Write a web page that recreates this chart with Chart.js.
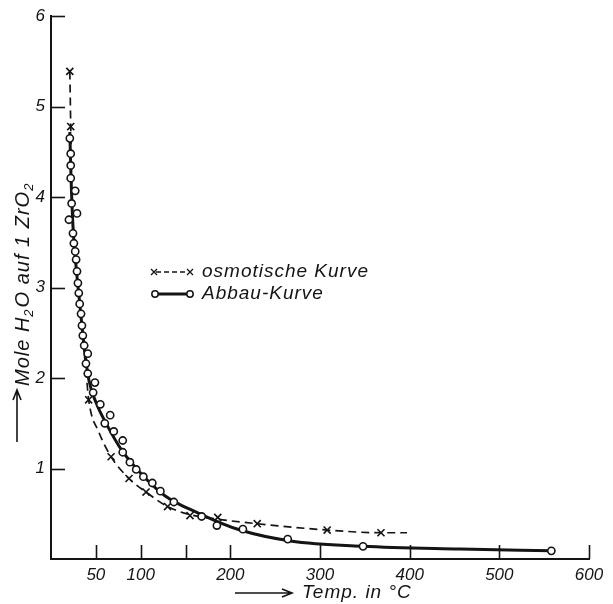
<!DOCTYPE html>
<html>
<head>
<meta charset="utf-8">
<script src="https://cdn.jsdelivr.net/npm/chart.js@4.4.1/dist/chart.umd.min.js"></script>
<style>
  html, body { margin: 0; padding: 0; background: #fff; }
  #wrap { width: 613px; height: 604px; }
</style>
</head>
<body>
<div id="wrap"><canvas id="myChart" width="613" height="604"></canvas></div>
<script>
// osmotic measurements (x marks)
var osmoTemp = [21, 22, 42, 67, 87, 106, 130, 155, 186, 230, 308, 368];
var osmoMol = [5.39, 4.78, 1.76, 1.13, 0.89, 0.74, 0.58, 0.48, 0.46, 0.39, 0.32, 0.29];

// dashed osmotic curve
var osmoCurveTemp = [21, 22, 23.4, 27.9, 33.5, 39, 42, 53.5, 67, 87, 106, 130, 155, 186, 230, 308, 368, 397];
var osmoCurveMol = [5.39, 4.78, 3.95, 3.29, 2.63, 2.08, 1.76, 1.40, 1.13, 0.89, 0.74, 0.58, 0.49, 0.44, 0.39, 0.32, 0.29, 0.29];

// decomposition measurements (circles)
var abbauTemp = [21, 22, 22, 22, 27, 23, 29, 20, 24.5, 25.5, 27, 28, 29, 30, 31, 32, 33.5, 34.5, 35.5, 37, 41, 39,
  41, 49, 47, 55, 66, 60, 70, 80, 80, 88, 95, 103, 113, 122, 137, 168, 185, 214, 264, 348, 558];
var abbauMol = [4.65, 4.48, 4.35, 4.21, 4.07, 3.93, 3.82, 3.75, 3.60, 3.49, 3.40, 3.31, 3.18, 3.05, 2.94, 2.82, 2.71,
  2.58, 2.47, 2.36, 2.27, 2.16, 2.05, 1.95, 1.84, 1.71, 1.59, 1.50, 1.41, 1.31, 1.18, 1.07, 0.99, 0.91, 0.84, 0.75,
  0.63, 0.47, 0.37, 0.33, 0.22, 0.14, 0.09];

// solid decomposition curve
var abbauCurveTemp = [21, 22.3, 24.5, 27.9, 32.3, 36.8, 42.4, 50.2, 62.5, 79, 99, 127, 166, 211, 267, 348, 456, 558];
var abbauCurveMol = [4.72, 4.23, 3.68, 3.24, 2.80, 2.36, 1.97, 1.73, 1.48, 1.20, 0.96, 0.70, 0.50, 0.32, 0.20, 0.14, 0.11, 0.09];

var xTicks = [50, 100, 150, 200, 300, 400, 500, 600];
var xTickLabels = ["50", "100", "", "200", "300", "400", "500", "600"];
var yTicks = [1, 2, 3, 4, 5, 6];

var ink = "#141414";
var textFont = "italic 19px 'Liberation Sans', 'DejaVu Sans', sans-serif";

function pts(xs, ys) {
  return xs.map(function (x, i) { return { x: x, y: ys[i] }; });
}

// inward tick marks, axis titles and the legend
var decorations = {
  id: "decorations",
  afterDraw: function (chart) {
    var c = chart.ctx, xs = chart.scales.x, ys = chart.scales.y, a = chart.chartArea;
    c.save();
    c.strokeStyle = ink;
    c.fillStyle = ink;
    c.lineWidth = 1.6;
    xTicks.forEach(function (t) {
      var px = Math.round(xs.getPixelForValue(t)) + 0.5;
      c.beginPath(); c.moveTo(px, a.bottom); c.lineTo(px, a.bottom - 14); c.stroke();
    });
    yTicks.forEach(function (t) {
      var py = Math.round(ys.getPixelForValue(t)) + 0.5;
      c.beginPath(); c.moveTo(a.left, py); c.lineTo(a.left + 14, py); c.stroke();
    });

    // y title with subscripts
    c.save();
    c.translate(29, 386);
    c.rotate(-Math.PI / 2);
    c.textBaseline = "alphabetic";
    c.textAlign = "left";
    c.letterSpacing = "1px";
    var parts = [["Mole H", 0], ["2", 1], ["O auf 1 ZrO", 0], ["2", 1]];
    var x = 0;
    parts.forEach(function (p) {
      c.font = p[1] ? "italic 13px 'Liberation Sans', sans-serif" : "italic 20px 'Liberation Sans', sans-serif";
      c.fillText(p[0], x, p[1] ? 4 : 0);
      x += c.measureText(p[0]).width + (p[1] ? 1 : 0);
    });
    c.restore();

    // arrows
    c.lineWidth = 1.6;
    c.beginPath();
    c.moveTo(17, 442); c.lineTo(17, 390);
    c.moveTo(13, 400); c.lineTo(17, 390); c.lineTo(21, 400);
    c.stroke();
    c.beginPath();
    c.moveTo(235, 593); c.lineTo(292, 593);
    c.moveTo(282, 589); c.lineTo(292, 593); c.lineTo(282, 597);
    c.stroke();

    c.font = textFont;
    c.letterSpacing = "1px";
    c.textAlign = "left";
    c.textBaseline = "middle";
    c.fillText("Temp. in °C", 302, 593);

    // legend
    c.fillText("osmotische Kurve", 202, 272);
    c.fillText("Abbau-Kurve", 202, 294);
    c.lineWidth = 1.3;
    c.setLineDash([5, 3]);
    c.beginPath(); c.moveTo(156, 272); c.lineTo(188, 272); c.stroke();
    c.setLineDash([]);
    [154, 190].forEach(function (cx) {
      c.beginPath();
      c.moveTo(cx - 3, 269); c.lineTo(cx + 3, 275);
      c.moveTo(cx - 3, 275); c.lineTo(cx + 3, 269);
      c.stroke();
    });
    c.lineWidth = 3;
    c.beginPath(); c.moveTo(155, 294); c.lineTo(190, 294); c.stroke();
    c.lineWidth = 1.5;
    [155, 190].forEach(function (cx) {
      c.beginPath(); c.arc(cx, 294, 3.2, 0, Math.PI * 2);
      c.fillStyle = "#fff"; c.fill(); c.stroke();
    });
    c.restore();
  }
};

var ctx = document.getElementById("myChart").getContext("2d");
var chart = new Chart(ctx, {
  type: "scatter",
  data: {
    datasets: [
      {
        label: "osmotische Kurve",
        data: pts(osmoCurveTemp, osmoCurveMol),
        showLine: true,
        borderColor: ink,
        borderWidth: 1.7,
        borderDash: [8, 5],
        cubicInterpolationMode: "monotone",
        pointRadius: 0,
        order: 4
      },
      {
        label: "Abbau-Kurve",
        data: pts(abbauCurveTemp, abbauCurveMol),
        showLine: true,
        borderColor: ink,
        borderWidth: 3,
        cubicInterpolationMode: "monotone",
        pointRadius: 0,
        order: 3
      },
      {
        label: "osmotisch",
        data: pts(osmoTemp, osmoMol),
        pointStyle: "crossRot",
        pointRadius: 5,
        borderColor: ink,
        borderWidth: 1.6,
        order: 2
      },
      {
        label: "Abbau",
        data: pts(abbauTemp, abbauMol),
        pointStyle: "circle",
        pointRadius: 3.6,
        backgroundColor: "#fff",
        borderColor: ink,
        borderWidth: 1.6,
        order: 1
      }
    ]
  },
  options: {
    responsive: false,
    animation: false,
    layout: { padding: { left: 0, right: 24, top: 14, bottom: 0 } },
    plugins: { legend: { display: false }, tooltip: { enabled: false } },
    scales: {
      x: {
        type: "linear",
        min: 0,
        max: 600,
        afterFit: function (s) { s.height = 45; },
        afterBuildTicks: function (s) { s.ticks = xTicks.map(function (v) { return { value: v }; }); },
        grid: { display: false, drawTicks: false },
        border: { display: true, color: ink, width: 2 },
        ticks: {
          color: ink,
          padding: 6,
          maxRotation: 0,
          autoSkip: false,
          font: { family: "'Liberation Sans', sans-serif", size: 17, style: "italic" },
          callback: function (v) { var i = xTicks.indexOf(v); return i < 0 ? "" : xTickLabels[i]; }
        }
      },
      y: {
        type: "linear",
        min: 0,
        max: 6,
        afterFit: function (s) { s.width = 51; },
        afterBuildTicks: function (s) { s.ticks = yTicks.map(function (v) { return { value: v }; }); },
        grid: { display: false, drawTicks: false },
        border: { display: true, color: ink, width: 2 },
        ticks: {
          color: ink,
          padding: 6,
          autoSkip: false,
          font: { family: "'Liberation Sans', sans-serif", size: 17, style: "italic" }
        }
      }
    }
  },
  plugins: [decorations]
});
</script>
</body>
</html>
